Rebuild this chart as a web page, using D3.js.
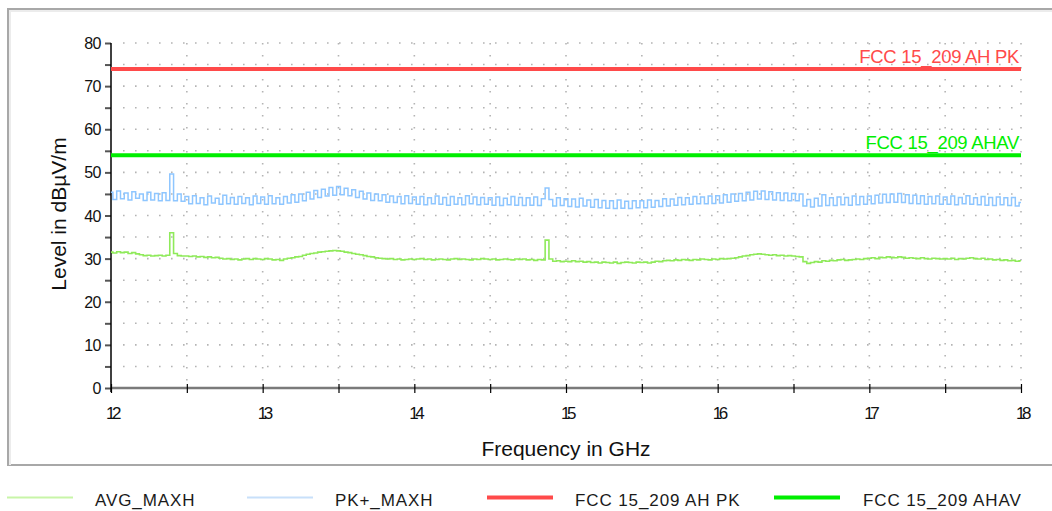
<!DOCTYPE html>
<html>
<head>
<meta charset="utf-8">
<script src="https://cdn.jsdelivr.net/npm/d3@7"></script>
<style>
  body { margin: 0; background: #fff; }
  text { font-family: "Liberation Sans", Arial, sans-serif; fill: #111; }
</style>
</head>
<body>
<div id="chart-area"></div>
<script>
// sweep: 12 GHz to 18 GHz, one reading every 0.025 GHz
let fStart = 12;
let fStep = 0.025;

// PK+_MAXH trace (dBuV/m)
let pkMaxh = [
  45.4, 43.7, 45.7, 43.9, 45.2, 43.6, 45.5, 44.0, 45.0, 43.5, 45.4, 43.6, 45.1, 43.4, 45.3, 43.5, 49.6, 43.4, 45.0, 43.3,
  44.4, 42.7, 44.6, 42.8, 44.1, 42.5, 44.5, 42.9, 44.0, 42.6, 44.7, 42.7, 44.2, 42.6, 44.4, 42.8, 44.1, 42.5, 44.5, 42.8,
  44.3, 42.6, 44.6, 42.7, 44.1, 42.6, 44.4, 42.9, 44.8, 43.1, 45.0, 43.4, 45.4, 43.8, 45.8, 44.2, 46.1, 44.5, 46.5, 44.7,
  46.7, 44.8, 46.3, 44.6, 46.0, 44.2, 45.6, 43.8, 45.2, 43.5, 45.0, 43.4, 44.8, 43.1, 44.5, 43.0, 44.4, 42.7, 44.6, 42.8,
  44.3, 42.6, 44.4, 42.5, 44.1, 42.7, 44.5, 42.6, 44.2, 42.4, 44.4, 42.6, 44.1, 42.5, 44.6, 42.7, 44.3, 42.5, 44.2, 42.6,
  44.1, 42.4, 44.3, 42.3, 44.0, 42.5, 44.4, 42.4, 44.2, 42.3, 44.1, 42.4, 44.3, 42.3, 43.9, 46.4, 43.7, 42.2, 44.1, 42.3,
  43.9, 42.1, 43.8, 42.0, 44.0, 42.2, 43.6, 41.9, 43.7, 41.8, 43.5, 41.7, 43.4, 41.6, 43.6, 41.7, 43.3, 41.6, 43.4, 41.8,
  43.4, 41.8, 43.6, 41.9, 43.5, 42.1, 43.9, 42.2, 43.8, 42.4, 44.2, 42.5, 44.1, 42.6, 44.4, 42.7, 44.3, 42.7, 44.5, 42.8,
  44.6, 42.9, 44.8, 43.1, 45.0, 43.3, 45.1, 43.4, 45.4, 43.6, 45.6, 43.8, 45.7, 43.7, 45.5, 43.6, 45.3, 43.5, 45.2, 43.4,
  45.1, 43.4, 45.0, 42.2, 43.7, 42.0, 44.0, 42.2, 44.8, 42.3, 44.1, 42.3, 44.3, 42.5, 44.2, 42.4, 44.5, 42.5, 44.4, 42.6,
  44.5, 42.7, 44.7, 42.9, 44.9, 43.0, 45.0, 43.1, 45.1, 43.0, 44.8, 42.8, 44.7, 42.7, 44.6, 42.6, 44.4, 42.7, 44.5, 42.6,
  44.3, 42.6, 44.5, 42.5, 44.2, 42.7, 44.6, 42.6, 44.1, 42.5, 44.4, 42.4, 44.2, 42.3, 44.3, 42.5, 44.1, 42.3, 44.2, 42.2,
  43.0
];

// AVG_MAXH trace (dBuV/m)
let avgMaxh = [
  31.5, 31.3, 31.6, 31.4, 31.5, 31.2, 31.4, 31.1, 30.9, 30.7, 30.8, 30.6, 30.7, 30.8, 30.6, 30.8, 36.0, 31.2, 30.7, 30.6,
  30.6, 30.5, 30.6, 30.4, 30.5, 30.3, 30.4, 30.2, 30.3, 30.1, 29.9, 30.0, 29.8, 29.9, 29.7, 29.9, 30.0, 29.8, 30.0, 29.9,
  29.8, 30.0, 29.9, 29.7, 29.8, 29.6, 29.9, 30.1, 30.2, 30.4, 30.5, 30.8, 31.0, 31.2, 31.3, 31.5, 31.6, 31.7, 31.8, 31.9,
  31.8, 31.7, 31.5, 31.4, 31.2, 31.0, 30.9, 30.7, 30.5, 30.4, 30.2, 30.1, 30.0, 29.9, 30.0, 29.8, 29.9, 29.7, 29.8, 29.9,
  29.8, 29.9, 30.0, 29.8, 29.9, 29.7, 29.8, 29.9, 29.8, 29.7, 29.9, 30.0, 29.8, 29.9, 29.8, 29.7, 29.9, 29.8, 30.0, 29.9,
  29.8, 29.9, 29.7, 29.8, 29.9, 29.8, 29.7, 29.9, 29.8, 29.9, 29.7, 29.8, 29.6, 29.8, 29.7, 34.3, 29.9, 29.4, 29.5, 29.3,
  29.4, 29.3, 29.5, 29.3, 29.4, 29.2, 29.3, 29.1, 29.2, 29.0, 29.2, 29.1, 29.0, 29.2, 28.9, 29.1, 29.2, 29.1, 29.0, 29.2,
  29.1, 29.2, 29.0, 29.2, 29.4, 29.3, 29.5, 29.6, 29.5, 29.7, 29.6, 29.8, 29.7, 29.6, 29.8, 29.7, 29.9, 29.8, 29.7, 29.9,
  29.8, 30.0, 29.9, 30.0, 30.1, 30.2, 30.4, 30.6, 30.7, 30.9, 31.0, 31.1, 31.0, 30.9, 30.8, 30.9, 30.7, 30.8, 30.6, 30.7,
  30.6, 30.5, 30.4, 29.3, 28.9, 29.1, 29.3, 29.2, 29.5, 29.4, 29.6, 29.5, 29.7, 29.8, 29.6, 29.7, 29.8, 29.9, 29.8, 30.0,
  30.1, 30.2, 30.0, 30.3, 30.2, 30.4, 30.3, 30.2, 30.4, 30.3, 30.1, 30.2, 30.1, 30.0, 30.2, 30.0, 29.9, 30.1, 30.0, 29.9,
  30.0, 29.9, 30.1, 29.8, 30.0, 29.9, 30.1, 30.2, 30.0, 29.9, 30.1, 29.8, 29.9, 29.7, 29.8, 29.6, 29.7, 29.5, 29.6, 29.4,
  29.5
];

// limit lines
let limitNames = ["FCC 15_209 AH PK", "FCC 15_209 AHAV"];
let limitValues = [74, 54];

// ticks
let xTickLabels = [12, 13, 14, 15, 16, 17, 18];
let yTickLabels = [0, 10, 20, 30, 40, 50, 60, 70, 80];

// legend
let legendNames = ["AVG_MAXH", "PK+_MAXH", "FCC 15_209 AH PK", "FCC 15_209 AHAV"];

// Variable
let w = 1052;
let h = 511;
let m = {left: 111, right: 1021, top: 43, bottom: 388};
let colPk = "#8ec6ff";
let colAvg = "#8fea5a";
let colRed = "#ff4a4a";
let colGreen = "#00ee00";

let svg = d3.select("#chart-area")
    .append("svg")
    .attr("width", w)
    .attr("height", h);

// frame
svg.append("rect")
    .attr("x", 8).attr("y", 9)
    .attr("width", 1060).attr("height", 456)
    .attr("fill", "none")
    .attr("stroke", "#a8a8a8")
    .attr("stroke-width", 2);
svg.append("path")
    .attr("d", "M10,465 V11 H1052")
    .attr("fill", "none")
    .attr("stroke", "#ececec")
    .attr("stroke-width", 2);

// scales
let x = d3.scaleLinear().domain([12, 18]).range([m.left, m.right]);
let y = d3.scaleLinear().domain([0, 80]).range([m.bottom, m.top]);

let xGrid = d3.range(12.5, 18.01, 0.5);
let yGrid = d3.range(5, 80.01, 5);

// dotted grid
svg.append("g").selectAll("line")
    .data(yGrid)
    .enter()
    .append("line")
      .attr("x1", m.left + 12).attr("x2", m.right)
      .attr("y1", function(d){return y(d);})
      .attr("y2", function(d){return y(d);})
      .attr("stroke", "#b4b4b4")
      .attr("stroke-width", 1.6)
      .attr("stroke-dasharray", "1.6,10.4");
svg.append("g").selectAll("line")
    .data(xGrid)
    .enter()
    .append("line")
      .attr("x1", function(d){return x(d);})
      .attr("x2", function(d){return x(d);})
      .attr("y1", m.top).attr("y2", m.bottom - 4)
      .attr("stroke", "#b4b4b4")
      .attr("stroke-width", 1.6)
      .attr("stroke-dasharray", "1.6,10.4");

// y axis
let yAxis = d3.axisLeft(y)
    .tickValues(yGrid.concat([0]))
    .tickSize(6)
    .tickFormat("");
let gy = svg.append("g")
    .attr("transform", "translate(" + m.left + ",0)")
    .call(yAxis);
gy.select(".domain").remove();
gy.selectAll(".tick line").attr("stroke", "#555").attr("stroke-width", 2);
svg.append("line")
    .attr("x1", m.left).attr("x2", m.left)
    .attr("y1", m.top).attr("y2", m.bottom + 4)
    .attr("stroke", "#000").attr("stroke-width", 1.5);

svg.append("g").selectAll("text")
    .data(yTickLabels)
    .enter()
    .append("text")
      .text(function(d){return d;})
      .attr("x", 101)
      .attr("y", function(d){return y(d) + 6;})
      .attr("text-anchor", "end")
      .attr("font-size", 16)
      .attr("letter-spacing", -0.5);

// x axis
svg.append("line")
    .attr("x1", m.left).attr("x2", m.right)
    .attr("y1", m.bottom).attr("y2", m.bottom)
    .attr("stroke", "#7a7a7a").attr("stroke-width", 2.5);
let xAxis = d3.axisBottom(x)
    .tickValues([12].concat(xGrid))
    .tickSize(9)
    .tickFormat("");
let gx = svg.append("g")
    .attr("transform", "translate(0," + (m.bottom - 4) + ")")
    .call(xAxis);
gx.select(".domain").remove();
gx.selectAll(".tick line").attr("stroke", "#000").attr("stroke-width", 1.2);

svg.append("g").selectAll("text")
    .data(xTickLabels)
    .enter()
    .append("text")
      .text(function(d){return d;})
      .attr("x", function(d){return x(d) + 1;})
      .attr("y", 419)
      .attr("text-anchor", "middle")
      .attr("font-size", 17)
      .attr("letter-spacing", -3.5);

// axis titles
svg.append("text")
    .text("Frequency in GHz")
    .attr("x", 566).attr("y", 456)
    .attr("text-anchor", "middle")
    .attr("font-size", 21);
svg.append("text")
    .text("Level in dBµV/m")
    .attr("transform", "translate(66,214) rotate(-90)")
    .attr("text-anchor", "middle")
    .attr("font-size", 21);

// traces
let line = d3.line()
    .x(function(d, i){return x(fStart + i * fStep);})
    .y(function(d){return y(d);})
    .curve(d3.curveStep);

svg.append("path")
    .datum(avgMaxh)
    .attr("d", line)
    .attr("fill", "none")
    .attr("stroke", colAvg)
    .attr("stroke-width", 1.6);
svg.append("path")
    .datum(pkMaxh)
    .attr("d", line)
    .attr("fill", "none")
    .attr("stroke", colPk)
    .attr("stroke-width", 1.5);

// limit lines
let limitCols = [colRed, colGreen];
svg.append("g").selectAll("line")
    .data(limitValues)
    .enter()
    .append("line")
      .attr("x1", m.left).attr("x2", m.right)
      .attr("y1", function(d){return y(d);})
      .attr("y2", function(d){return y(d);})
      .attr("stroke", function(d, i){return limitCols[i];})
      .attr("stroke-width", 4);
svg.append("g").selectAll("text")
    .data(limitValues)
    .enter()
    .append("text")
      .text(function(d, i){return limitNames[i];})
      .attr("x", m.right - 2)
      .attr("y", function(d){return y(d) - 6;})
      .attr("text-anchor", "end")
      .attr("font-size", 18.5)
      .attr("letter-spacing", -0.3)
      .style("fill", function(d, i){return limitCols[i];});

// legend
let legX = [7, 247, 487, 774];
let legTextX = [95, 335, 575, 863];
let legCols = ["#c8f5a8", "#c8e0fa", colRed, colGreen];
let legW = [2, 2, 4, 4];
let leg = svg.append("g").selectAll("g")
    .data(legendNames)
    .enter()
    .append("g");
leg.append("line")
    .attr("x1", function(d, i){return legX[i];})
    .attr("x2", function(d, i){return legX[i] + 66;})
    .attr("y1", 497.5).attr("y2", 497.5)
    .attr("stroke", function(d, i){return legCols[i];})
    .attr("stroke-width", function(d, i){return legW[i];});
leg.append("text")
    .text(function(d){return d;})
    .attr("x", function(d, i){return legTextX[i];})
    .attr("y", 506)
    .attr("font-size", 17)
    .attr("letter-spacing", 0.9)
    .style("fill", "#1a1a1a");
</script>
</body>
</html>
